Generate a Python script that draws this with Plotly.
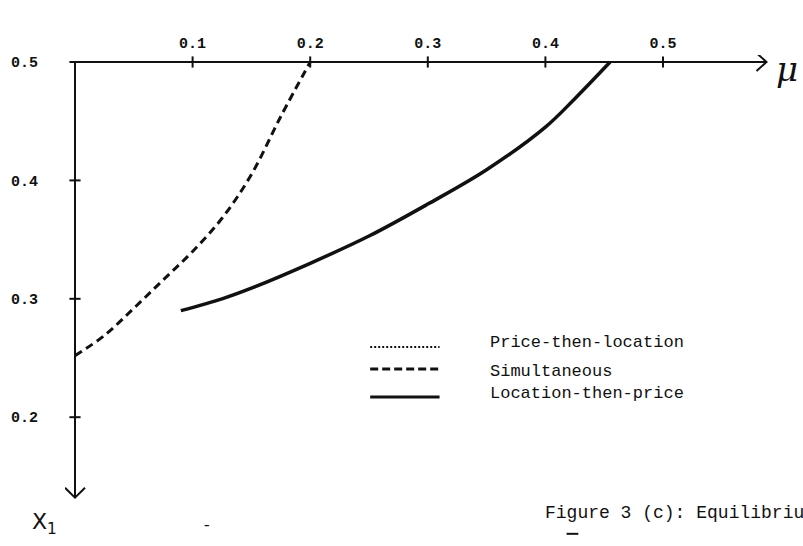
import plotly.graph_objects as go

# Equilibrium location x1 as a function of mu, for the three move orders
series_names = ["Price-then-location", "Simultaneous", "Location-then-price"]

mu_simultaneous = [0.0, 0.025, 0.05, 0.075, 0.10, 0.125, 0.15, 0.175, 0.20]
x1_simultaneous = [0.252, 0.269, 0.292, 0.316, 0.340, 0.368, 0.405, 0.454, 0.50]

mu_loc_price = [0.09, 0.125, 0.15, 0.20, 0.25, 0.30, 0.35, 0.40, 0.425, 0.455]
x1_loc_price = [0.290, 0.300, 0.309, 0.330, 0.353, 0.380, 0.409, 0.445, 0.469, 0.50]

mu_ticks = [0.1, 0.2, 0.3, 0.4, 0.5]
mu_tick_text = ["0.1", "0.2", "0.3", "0.4", "0.5"]
x1_ticks = [0.2, 0.3, 0.4, 0.5]
x1_tick_text = ["0.2", "0.3", "0.4", "0.5"]

caption = "Figure 3 (c): Equilibrium"

# ---- geometry -------------------------------------------------------------
W, H = 803, 546
ML, MR, MT, MB = 65, 23, 55, 40
PX_PER_MU = 1176.0   # pixels per unit of mu
PX_PER_X1 = 1184.0   # pixels per unit of x1
ORIGIN_PX = 75       # horizontal pixel of mu = 0
TOP_PX = 62          # vertical pixel of x1 = 0.5

x_min = -(ORIGIN_PX - ML) / PX_PER_MU
x_max = x_min + (W - ML - MR) / PX_PER_MU
y_max = 0.5 + (TOP_PX - MT) / PX_PER_X1
y_min = y_max - (H - MT - MB) / PX_PER_X1


def paper_y(v):
    """x1 value -> paper fraction (works below the visible range too)."""
    return (v - y_min) / (y_max - y_min)


def paper_x(m):
    return (m - x_min) / (x_max - x_min)


MU_END = 0.588       # where the mu axis arrow ends
X1_END = 0.132       # where the x1 axis arrow ends
ax_dx = 10 / PX_PER_MU
ax_dy = 9 / PX_PER_X1

FONT = "Liberation Mono"
INK = "#111111"

fig = go.Figure()

fig.add_trace(go.Scatter(
    x=mu_simultaneous, y=x1_simultaneous, mode="lines",
    line=dict(color=INK, width=3, dash="8px,5px", shape="spline"),
    name=series_names[1], showlegend=False,
))
fig.add_trace(go.Scatter(
    x=mu_loc_price, y=x1_loc_price, mode="lines",
    line=dict(color=INK, width=3.5, shape="spline"),
    name=series_names[2], showlegend=False,
))

# tick crosses on both axes
fig.add_trace(go.Scatter(
    x=mu_ticks, y=[0.5] * len(mu_ticks), mode="markers",
    marker=dict(symbol="line-ns", size=8, line=dict(color=INK, width=2)),
    showlegend=False, hoverinfo="skip", cliponaxis=False,
))
fig.add_trace(go.Scatter(
    x=[0] * len(x1_ticks), y=x1_ticks, mode="markers",
    marker=dict(symbol="line-ew", size=8, line=dict(color=INK, width=2)),
    showlegend=False, hoverinfo="skip", cliponaxis=False,
))

shapes = [
    # axes
    dict(type="line", x0=0, y0=0.5, x1=MU_END, y1=0.5, line=dict(color=INK, width=2.2)),
    dict(type="line", x0=0, y0=0.5, x1=0, y1=X1_END, line=dict(color=INK, width=2)),
    # arrow heads
    dict(type="path",
         path=f"M{MU_END - ax_dx},{0.5 + ax_dy} L{MU_END},0.5 L{MU_END - ax_dx},{0.5 - ax_dy}",
         line=dict(color=INK, width=2)),
    dict(type="path",
         path=f"M{-ax_dx},{X1_END + ax_dy * 1.1} L0,{X1_END} L{ax_dx},{X1_END + ax_dy * 1.1}",
         line=dict(color=INK, width=2)),
    # short underline beneath the caption
    dict(type="line", xref="paper", yref="paper",
         x0=paper_x(0.418), x1=paper_x(0.428),
         y0=paper_y(0.1015), y1=paper_y(0.1015),
         line=dict(color=INK, width=2)),
]

# legend key: sample line styles beside the series names
legend_y = [0.2593, 0.2407, 0.2171]
legend_dash = ["2px,2px", "8px,4px", "solid"]
legend_w = [2, 3, 3]
for yy, dsh, lw in zip(legend_y, legend_dash, legend_w):
    shapes.append(dict(type="line", x0=0.251, x1=0.310, y0=yy, y1=yy,
                       line=dict(color=INK, width=lw, dash=dsh)))

annotations = []
text_y = [0.2627, 0.2382, 0.2204]
for name, yy in zip(series_names, text_y):
    annotations.append(dict(x=0.351, y=yy, text=name, showarrow=False,
                            xanchor="left", yanchor="middle",
                            font=dict(family=FONT, size=17, color=INK)))

# texts below the visible x1 range are placed in paper coordinates
annotations += [
    dict(xref="paper", yref="paper", x=paper_x(0.398), y=paper_y(0.119),
         text=caption, showarrow=False, xanchor="left", yanchor="middle",
         font=dict(family=FONT, size=18, color=INK)),
    dict(xref="paper", yref="paper", x=paper_x(0.112), y=paper_y(0.108),
         text="-", showarrow=False, xanchor="center", yanchor="middle",
         font=dict(family=FONT, size=16, color=INK)),
    dict(xref="paper", yref="paper", x=-0.049, y=-0.038, text="X<sub>1</sub>",
         showarrow=False, xanchor="left", yanchor="middle",
         font=dict(family="DejaVu Sans", size=22, color=INK)),
    dict(x=0.594, y=0.494, text="<i>μ</i>", showarrow=False, xanchor="left",
         yanchor="middle", font=dict(family="DejaVu Serif", size=34, color=INK)),
]

fig.update_layout(
    width=W, height=H,
    margin=dict(l=ML, r=MR, t=MT, b=MB),
    paper_bgcolor="white", plot_bgcolor="white",
    shapes=shapes, annotations=annotations,
    showlegend=False,
    xaxis=dict(range=[x_min, x_max], side="top", tickvals=mu_ticks,
               ticktext=mu_tick_text, showgrid=False, zeroline=False,
               showline=False, ticks="", ticklabelstandoff=3,
               tickfont=dict(family=FONT, size=15, color=INK, weight="bold")),
    yaxis=dict(range=[y_min, y_max], tickvals=x1_ticks, ticktext=x1_tick_text,
               showgrid=False, zeroline=False, showline=False, ticks="",
               ticklabelstandoff=26,
               tickfont=dict(family=FONT, size=15, color=INK, weight="bold")),
)

fig.write_html("out.html")
